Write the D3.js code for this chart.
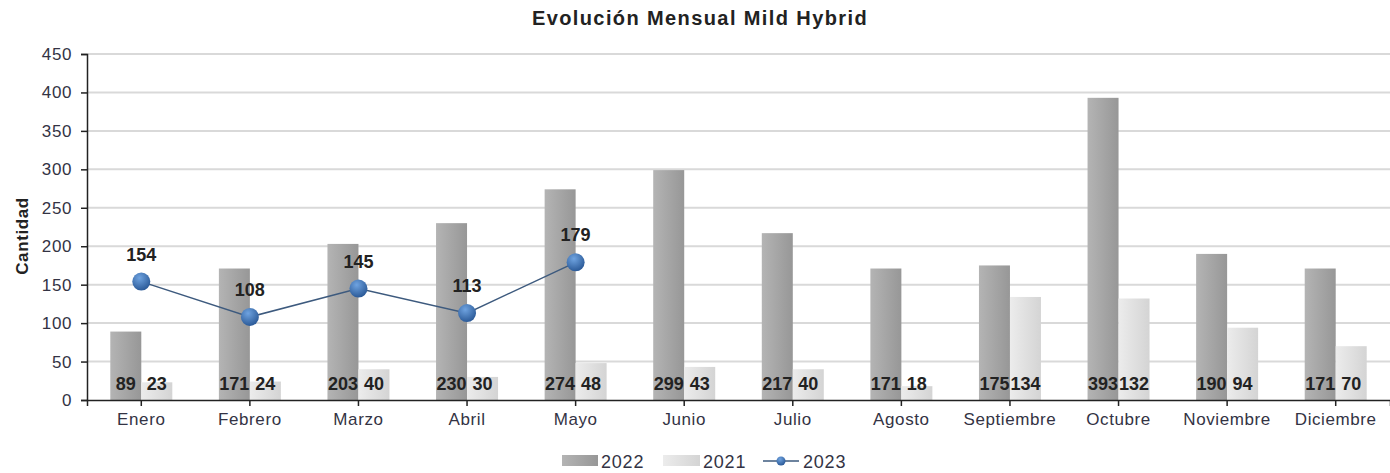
<!DOCTYPE html>
<html>
<head>
<meta charset="utf-8">
<style>
body { margin: 0; background: #fff; }
svg text { font-family: "Liberation Sans", Arial, sans-serif; }
.axis .domain { stroke: #222; stroke-width: 1.5px; }
.axis .tick line { stroke: #222; stroke-width: 1.5px; }
.axis .tick text { font-size: 17px; letter-spacing: 0.6px; fill: #333344; }
.grid line { stroke: #d9d9d9; stroke-width: 2px; }
.vlabel { font-size: 18px; font-weight: bold; fill: #222; }
.legtext { font-size: 18px; letter-spacing: 0.8px; fill: #333344; }
</style>
</head>
<body>
<svg width="1390" height="473"></svg>
<script src="https://d3js.org/d3.v7.min.js"></script>
<script>
var months = ["Enero", "Febrero", "Marzo", "Abril", "Mayo", "Junio", "Julio", "Agosto", "Septiembre", "Octubre", "Noviembre", "Diciembre"];
var v2022 = [89, 171, 203, 230, 274, 299, 217, 171, 175, 393, 190, 171];
var v2021 = [23, 24, 40, 30, 48, 43, 40, 18, 134, 132, 94, 70];
var v2023 = [154, 108, 145, 113, 179];
var yTicks = [0, 50, 100, 150, 200, 250, 300, 350, 400, 450];

var svg = d3.select("svg"),
    margin = {top: 54, right: 0, bottom: 73, left: 87},
    width = +svg.attr("width") - margin.left - margin.right,
    height = +svg.attr("height") - margin.top - margin.bottom,
    g = svg.append("g").attr("transform", "translate(" + margin.left + "," + margin.top + ")");

var defs = svg.append("defs");
function hgrad(id, c1, c2) {
  var gr = defs.append("linearGradient").attr("id", id)
      .attr("x1", "0%").attr("x2", "100%").attr("y1", "0%").attr("y2", "0%");
  gr.append("stop").attr("offset", "0%").attr("stop-color", c1);
  gr.append("stop").attr("offset", "100%").attr("stop-color", c2);
}
hgrad("g2022", "#b4b4b4", "#979797");
hgrad("g2021", "#ececec", "#d4d4d4");
var rg = defs.append("radialGradient").attr("id", "gdot")
    .attr("cx", "40%").attr("cy", "30%").attr("r", "70%");
rg.append("stop").attr("offset", "0%").attr("stop-color", "#6fa3e0");
rg.append("stop").attr("offset", "100%").attr("stop-color", "#2b5a98");

var x = d3.scaleBand().domain(months).range([0, width]);
var y = d3.scaleLinear().domain([0, 450]).range([height, 0]);
var bw = 31;

// grid
g.append("g").attr("class", "grid")
  .selectAll("line").data(yTicks.slice(1)).enter().append("line")
    .attr("x1", 0).attr("x2", width)
    .attr("y1", function(d) { return y(d); }).attr("y2", function(d) { return y(d); });

// bars
var cx = function(i) { return x(months[i]) + x.bandwidth() / 2; };
g.selectAll(".b22").data(v2022).enter().append("rect")
    .attr("x", function(d, i) { return cx(i) - bw; })
    .attr("y", function(d) { return y(d); })
    .attr("width", bw)
    .attr("height", function(d) { return y(0) - y(d); })
    .attr("fill", "url(#g2022)");
g.selectAll(".b21").data(v2021).enter().append("rect")
    .attr("x", function(d, i) { return cx(i); })
    .attr("y", function(d) { return y(d); })
    .attr("width", bw)
    .attr("height", function(d) { return y(0) - y(d); })
    .attr("fill", "url(#g2021)");

// bar labels
g.selectAll(".l22").data(v2022).enter().append("text")
    .attr("class", "vlabel")
    .attr("x", function(d, i) { return cx(i) - bw / 2; })
    .attr("y", y(0) - 10)
    .attr("text-anchor", "middle")
    .text(function(d) { return d; });
g.selectAll(".l21").data(v2021).enter().append("text")
    .attr("class", "vlabel")
    .attr("x", function(d, i) { return cx(i) + bw / 2; })
    .attr("y", y(0) - 10)
    .attr("text-anchor", "middle")
    .text(function(d) { return d; });

// axes
g.append("g").attr("class", "axis")
    .attr("transform", "translate(0," + height + ")")
    .call(d3.axisBottom(x).tickSizeOuter(0).tickSize(6).tickPadding(7));
g.append("g").attr("class", "axis")
    .call(d3.axisLeft(y).tickValues(yTicks).tickSizeOuter(0).tickSize(6).tickPadding(9));

// 2023 line
var line = d3.line()
    .x(function(d, i) { return cx(i); })
    .y(function(d) { return y(d); });
g.append("path").datum(v2023)
    .attr("d", line)
    .attr("fill", "none")
    .attr("stroke", "#3d5a7e")
    .attr("stroke-width", 1.5);
g.selectAll(".dot").data(v2023).enter().append("circle")
    .attr("cx", function(d, i) { return cx(i); })
    .attr("cy", function(d) { return y(d); })
    .attr("r", 9)
    .attr("fill", "url(#gdot)");
g.selectAll(".l23").data(v2023).enter().append("text")
    .attr("class", "vlabel")
    .attr("x", function(d, i) { return cx(i); })
    .attr("y", function(d) { return y(d) - 21; })
    .attr("text-anchor", "middle")
    .text(function(d) { return d; });

// title
svg.append("text")
    .attr("x", 700).attr("y", 25)
    .attr("text-anchor", "middle")
    .style("font-size", "20px").style("font-weight", "bold").style("fill", "#222")
    .style("letter-spacing", "1.4px")
    .text("Evolución Mensual Mild Hybrid");

// y label
svg.append("text")
    .attr("transform", "translate(28,236) rotate(-90)")
    .attr("text-anchor", "middle")
    .style("font-size", "17px").style("font-weight", "bold").style("fill", "#222")
    .style("letter-spacing", "0.6px")
    .text("Cantidad");

// legend
var leg = svg.append("g").attr("transform", "translate(0,461)");
leg.append("rect").attr("x", 562).attr("y", -6).attr("width", 36).attr("height", 11).attr("fill", "url(#g2022)");
leg.append("text").attr("class", "legtext").attr("x", 601).attr("y", 7).text("2022");
leg.append("rect").attr("x", 663).attr("y", -6).attr("width", 37).attr("height", 11).attr("fill", "url(#g2021)");
leg.append("text").attr("class", "legtext").attr("x", 703).attr("y", 7).text("2021");
leg.append("line").attr("x1", 763).attr("x2", 799).attr("y1", 0).attr("y2", 0).attr("stroke", "#3d5a7e").attr("stroke-width", 1.5);
leg.append("circle").attr("cx", 781).attr("cy", 0).attr("r", 4.5).attr("fill", "url(#gdot)");
leg.append("text").attr("class", "legtext").attr("x", 803).attr("y", 7).text("2023");
</script>
</body>
</html>
